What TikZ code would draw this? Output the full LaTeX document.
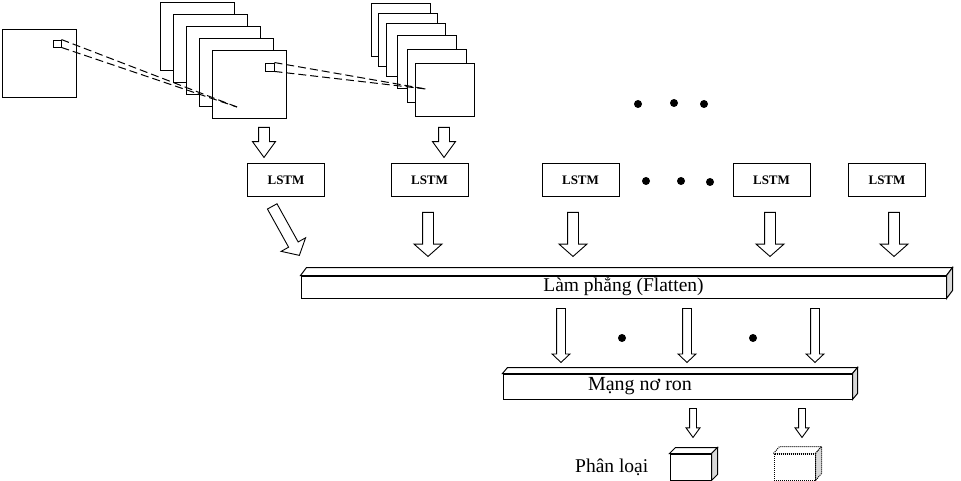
\documentclass[tikz,border=0pt]{standalone}
\usepackage{fontspec}
\setmainfont{Liberation Serif}
\usetikzlibrary{shapes,arrows,positioning,calc}

\tikzstyle{fmap} = [rectangle, draw, fill=white, line width=1pt, inner sep=0pt]
\tikzstyle{win} = [rectangle, draw, fill=white, line width=0.9pt, inner sep=0pt]
\tikzstyle{lstm} = [rectangle, draw, line width=1pt, minimum width=77pt, minimum height=33pt,
 font=\fontsize{13}{15}\selectfont\bfseries]
\tikzstyle{dot} = [circle, fill=black, inner sep=0pt, minimum size=8pt]
\tikzstyle{face} = [rectangle, draw, fill=white, line width=1pt, inner sep=0pt]
\tikzstyle{lbl} = [inner sep=0pt, font=\fontsize{19.5}{22}\selectfont]
\tikzstyle{hollow} = [single arrow, draw, fill=white, line width=0.9pt, inner xsep=0pt, anchor=tail]
\tikzstyle{arrA} = [hollow, minimum height=30pt, inner ysep=5pt, single arrow head extend=6pt, single arrow tip angle=72]
\tikzstyle{arrB} = [hollow, minimum height=44pt, inner ysep=5pt, single arrow head extend=8.5pt, single arrow tip angle=97]
\tikzstyle{arrC} = [hollow, minimum height=54pt, inner ysep=4pt, single arrow head extend=4.5pt, single arrow tip angle=93]
\tikzstyle{arrD} = [hollow, minimum height=29pt, inner ysep=3pt, single arrow head extend=3.5pt, single arrow tip angle=72]
\tikzstyle{line} = [draw, dash pattern=on 8pt off 4pt, line width=1pt]

% top and side face of a block drawn behind its front node
\newcommand\boxdepth[4]{%
  \draw[line width=1pt, fill=white, #4] (#1.north west) -- ++(#2,#3) -- ($(#1.north east)+(#2,#3)$) -- (#1.north east) -- cycle;
  \draw[line width=1pt, fill=gray!30, #4] (#1.north east) -- ++(#2,#3) -- ($(#1.south east)+(#2,#3)$) -- (#1.south east) -- cycle;
}

\begin{document}
\begin{tikzpicture}[x=1pt, y=-1pt]
        \useasboundingbox (0,0) rectangle (961,481);

        % input image and the two stacks of feature maps
        \node[fmap, minimum width=74pt, minimum height=68pt] (input) at (39,64) {};
        \foreach \i in {0,...,4}
          \node[fmap, minimum width=74pt, minimum height=68pt] (a\i) at (197+13*\i, 37+12*\i) {};
        \foreach \x/\y [count=\i] in {400.5/30.5, 407.5/40.5, 415.5/50.5, 426.5/62.5, 436.5/76.5, 445/90.5}
          \node[fmap, minimum width=59pt, minimum height=53pt] (b\i) at (\x,\y) {};

        \node[win, minimum width=8pt, minimum height=7pt] (w1) at (57,43.5) {};
        \node[win, minimum width=9pt, minimum height=8pt] (w2) at (269.5,67) {};
        \coordinate (p1) at (237,107);
        \coordinate (p2) at (426,89);
        \path[line] (w1.north east) -- (p1);
        \path[line] (w1.south east) -- (p1);
        \path[line] (w2.north east) -- (p2);
        \path[line] (w2.south east) -- (p2);

        \node[dot] (t1) at (638,104) {};
        \node[dot] (t2) at (674,103) {};
        \node[dot] (t3) at (704,104) {};

        % LSTM row
        \node[arrA, rotate=-90] (in1) at (264,127) {};
        \node[arrA, rotate=-90] (in2) at (444,127) {};
        \node[lstm] (l1) at (286,180.5) {LSTM};
        \node[lstm] (l2) at (429.5,180.5) {LSTM};
        \node[lstm] (l3) at (580.5,180.5) {LSTM};
        \node[lstm] (l4) at (771.5,180.5) {LSTM};
        \node[lstm] (l5) at (887,180.5) {LSTM};
        \node[dot] (m1) at (646,181) {};
        \node[dot] (m2) at (681,181) {};
        \node[dot] (m3) at (710,182) {};

        \node[arrB, rotate=-61, minimum height=56pt] (d1) at (272,206) {};
        \node[arrB, rotate=-90] (d2) at (428,212) {};
        \node[arrB, rotate=-90] (d3) at (573,212) {};
        \node[arrB, rotate=-90] (d4) at (770,212) {};
        \node[arrB, rotate=-90] (d5) at (894,212) {};

        % flatten layer
        \node[face, minimum width=645pt, minimum height=22pt, font=\fontsize{19.5}{22}\selectfont] (flat) at (623.5,287) {Làm phẳng (Flatten)};
        \boxdepth{flat}{6}{-8}{}

        \node[arrC, rotate=-90] (f1) at (561,308) {};
        \node[arrC, rotate=-90] (f2) at (687,308) {};
        \node[arrC, rotate=-90] (f3) at (815,308) {};
        \node[dot] (n1) at (622,338) {};
        \node[dot] (n2) at (753,338) {};

        % dense network and output
        \node[face, minimum width=349pt, minimum height=25pt] (mang) at (677.5,386.5) {};
        \boxdepth{mang}{5}{-6}{}
        \node[lbl, font=\fontsize{20}{22}\selectfont] (mangtxt) at (640,386) {Mạng nơ ron};

        \node[arrD, rotate=-90] (o1) at (693,408) {};
        \node[arrD, rotate=-90] (o2) at (802,408) {};

        \node[face, minimum width=41pt, minimum height=26pt] (out1) at (690.5,467) {};
        \boxdepth{out1}{6}{-6}{}
        \node[face, densely dotted, minimum width=41pt, minimum height=26pt] (out2) at (794.5,467) {};
        \boxdepth{out2}{6}{-7}{densely dotted}
        \node[lbl, left=21pt of out1] (cls) {Phân loại};
      \end{tikzpicture}
\end{document}
